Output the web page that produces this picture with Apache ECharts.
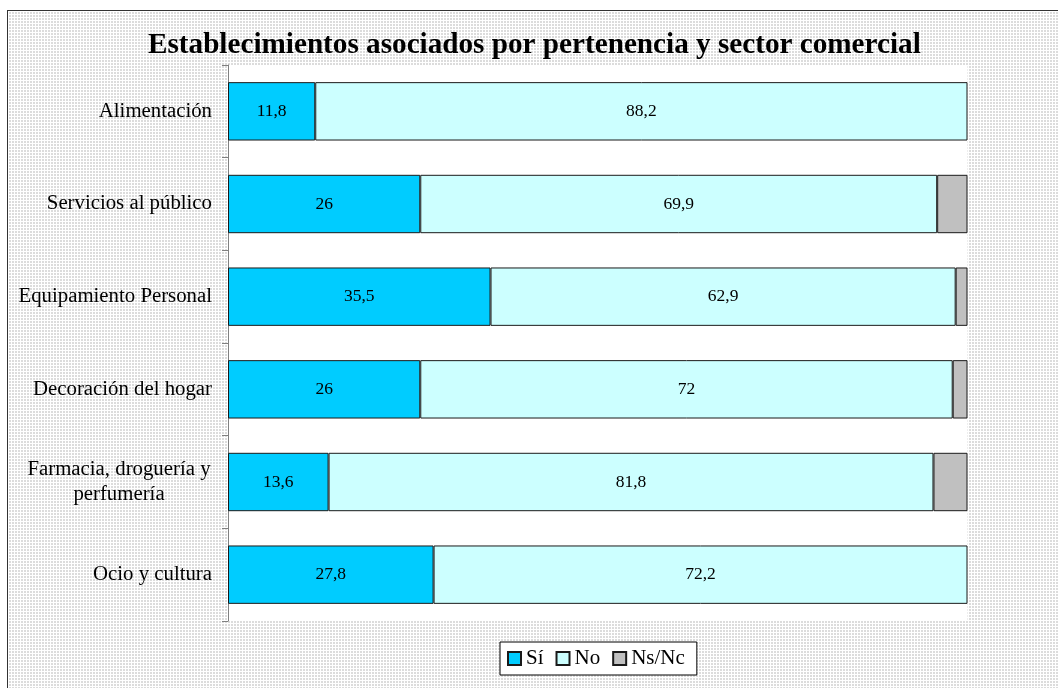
<!DOCTYPE html>
<html>
<head>
<meta charset="utf-8">
<title>Establecimientos asociados por pertenencia y sector comercial</title>
<script src="https://cdn.jsdelivr.net/npm/echarts@6/dist/echarts.min.js"></script>
<style>
  html, body { margin: 0; padding: 0; background: #ffffff; overflow: hidden; width: 1058px; height: 688px; }
  #frame {
    position: absolute; left: 7px; top: 10px; width: 1051px; height: 678px;
    box-sizing: border-box;
    border: none;
    border-left: 1px solid #333; border-top: 1px solid #333;
    background-color: #dcdcdc;
    background-image:
      linear-gradient(90deg, #ffffff 1px, transparent 1px),
      linear-gradient(180deg, #ffffff 1px, transparent 1px);
    background-size: 3px 3px;
  }
  #chart { position: absolute; left: 0; top: 0; width: 1058px; height: 688px; }
</style>
</head>
<body>
<div id="frame"></div>
<div id="chart"></div>
<script>
// Sectors, top to bottom
const categories = [
  'Alimentación',
  'Servicios al público',
  'Equipamiento Personal',
  'Decoración del hogar',
  'Farmacia, droguería y\nperfumería',
  'Ocio y cultura'
];
// Percent of establishments per answer
const siValues   = [11.8, 26, 35.5, 26, 13.6, 27.8];
const noValues   = [88.2, 69.9, 62.9, 72, 81.8, 72.2];
const nsncValues = [0, 4.1, 1.6, 2, 4.6, 0];
const seriesNames = ['Sí', 'No', 'Ns/Nc'];
const seriesColors = ['#00ccff', '#ccffff', '#c0c0c0'];

const serif = '"Liberation Serif", "Times New Roman", serif';
const labelSize = 20.8;

const chart = echarts.init(document.getElementById('chart'), null, { renderer: 'canvas' });

function barSeries(name, values, color, withLabel) {
  return {
    name: name,
    type: 'bar',
    stack: 'total',
    barCategoryGap: '37%',
    data: values.map(v => (v === 0 ? null : v)),
    itemStyle: { color: color, borderColor: '#1a1a1a', borderWidth: 1 },
    label: {
      show: withLabel,
      position: 'inside',
      color: '#000',
      fontFamily: serif,
      fontSize: 17.5,
      formatter: p => String(p.value).replace('.', ',')
    },
    emphasis: { disabled: true }
  };
}

chart.setOption({
  animation: false,
  backgroundColor: 'transparent',
  title: {
    text: 'Establecimientos asociados por pertenencia y sector comercial',
    left: 143,
    top: 26,
    textStyle: { fontFamily: serif, fontSize: 29.2, fontWeight: 'bold', color: '#000' }
  },
  legend: {
    data: seriesNames,
    left: 500,
    top: 642,
    orient: 'horizontal',
    icon: 'rect',
    itemWidth: 13,
    itemHeight: 13,
    itemGap: 12,
    padding: [6, 12, 6, 7],
    backgroundColor: '#ffffff',
    borderColor: '#000',
    borderWidth: 1,
    textStyle: { fontFamily: serif, fontSize: 21, color: '#000' }
  },
  grid: {
    left: 228,
    right: 90.5,
    top: 65,
    bottom: 67,
    show: true,
    backgroundColor: '#ffffff',
    borderWidth: 0
  },
  xAxis: {
    type: 'value',
    min: 0,
    max: 100,
    show: false
  },
  yAxis: {
    type: 'category',
    data: categories,
    inverse: true,
    axisLine: { show: true, lineStyle: { color: '#808080', width: 1 } },
    axisTick: { show: true, length: 6, lineStyle: { color: '#808080' } },
    axisLabel: {
      margin: 16,
      color: '#000',
      fontFamily: serif,
      fontSize: labelSize,
      lineHeight: 25,
      formatter: v => {
        if (v.indexOf('\n') < 0) return v;
        return v.split('\n').map(s => '{c|' + s + '}').join('\n');
      },
      rich: {
        c: { width: 186, align: 'center', fontFamily: serif, fontSize: labelSize, lineHeight: 25, color: '#000' }
      }
    }
  },
  series: [
    barSeries(seriesNames[0], siValues, seriesColors[0], true),
    barSeries(seriesNames[1], noValues, seriesColors[1], true),
    barSeries(seriesNames[2], nsncValues, seriesColors[2], false)
  ]
});
</script>
</body>
</html>
